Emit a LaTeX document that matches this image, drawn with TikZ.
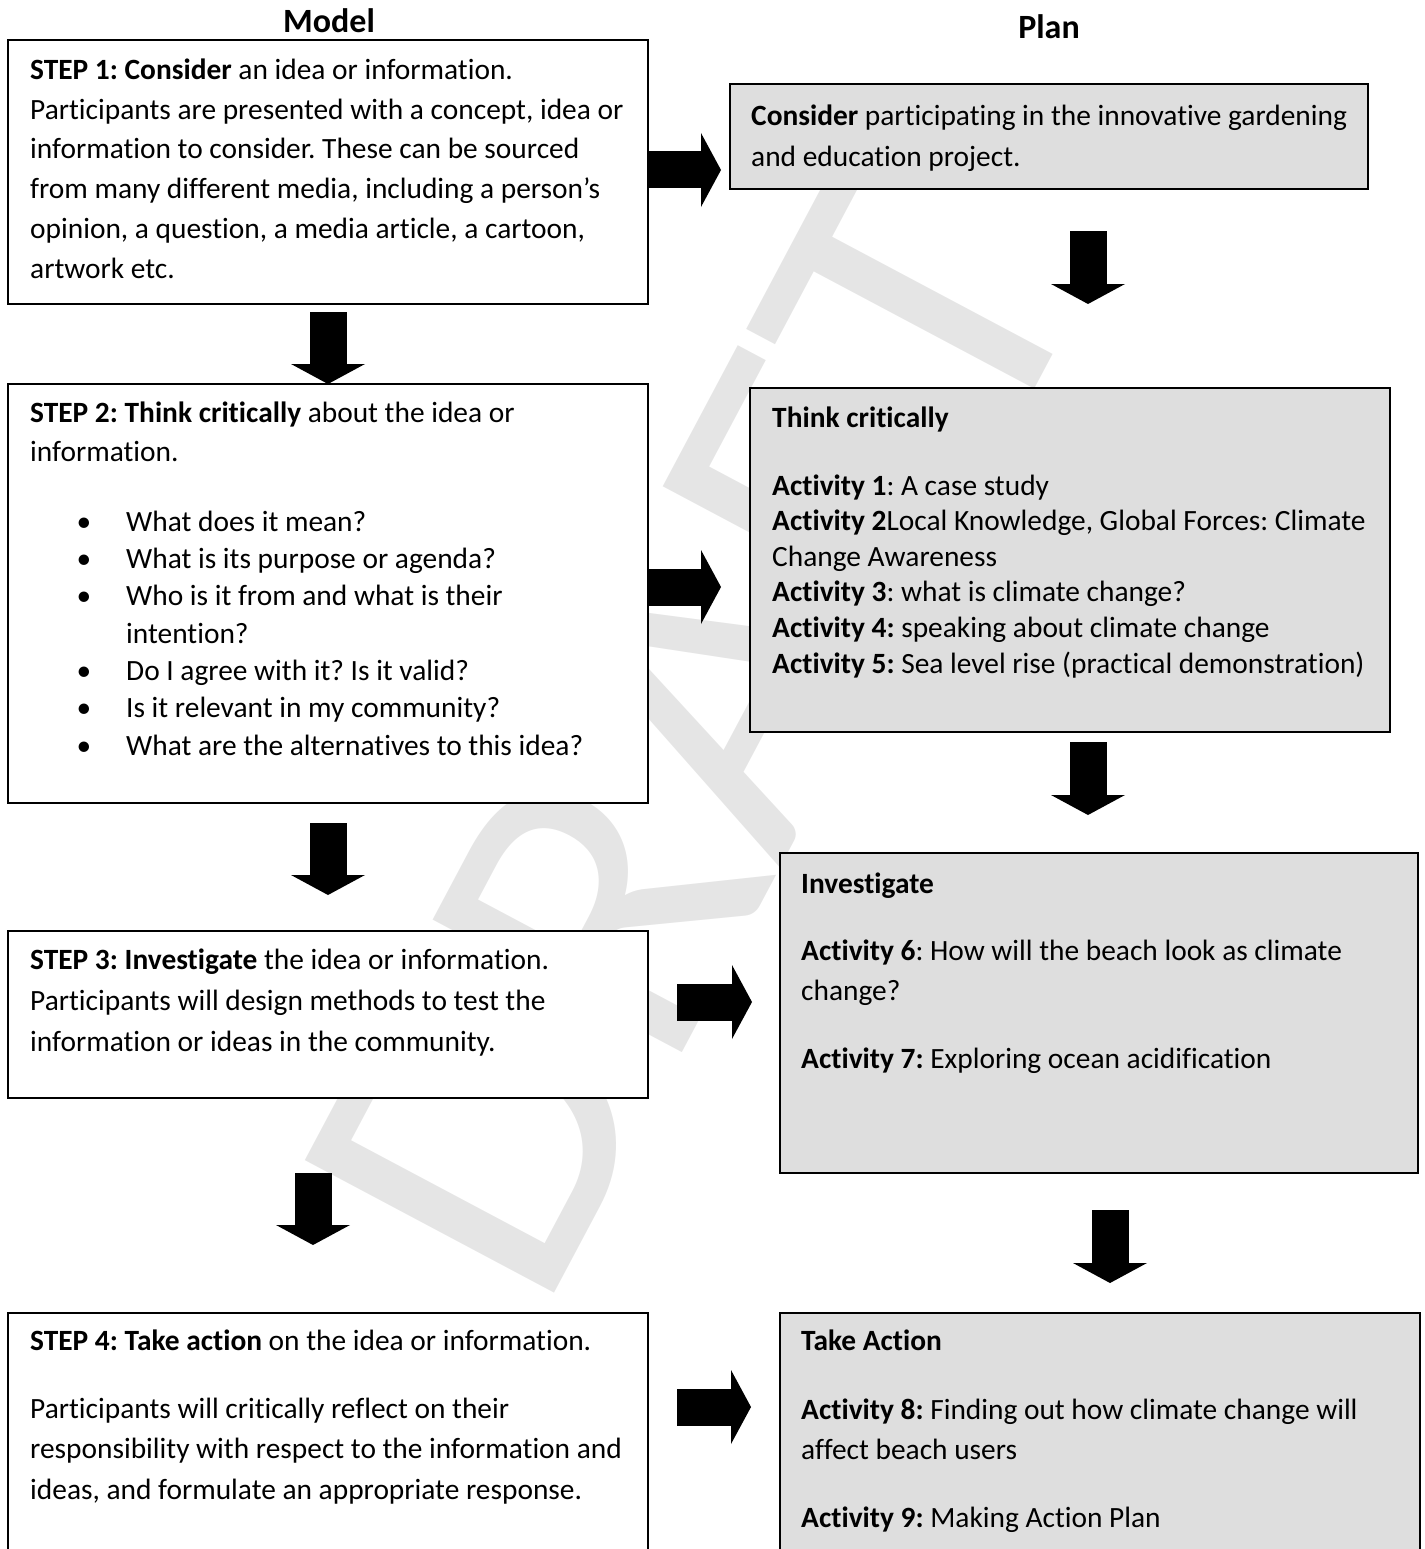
\documentclass[tikz,border=0pt]{standalone}
\usepackage{fontspec}
\setmainfont{Carlito}[Ligatures=NoCommon]
\usetikzlibrary{arrows.meta,calc}
\definecolor{planfill}{gray}{0.87}
\definecolor{markgray}{gray}{0.9}
\frenchspacing
\begin{document}
\begin{tikzpicture}[x=1pt, y=-1pt,
    modelbox/.style = {draw, line width=1.6pt, fill=white, anchor=north west, inner sep=0pt, outer sep=0pt},
    planbox/.style = {modelbox, fill=planfill},
    txt/.style = {anchor=base west, inner sep=0pt, align=left, font=\fontsize{29.4}{#1}\selectfont},
    heading/.style = {anchor=base, inner sep=0pt, font=\fontsize{34}{40}\selectfont\bfseries},
    blockarrow/.style = {line width=37pt, -{Triangle[length=20pt, width=74pt, line width=0pt]}}]
    \useasboundingbox (0,0) rectangle (1424,1549);
    \clip (0,0) rectangle (1424,1549);

    \node[rotate=62, anchor=base west, inner sep=0pt, text=markgray, font=\fontsize{440}{440}\selectfont] (draft) at (540,1320) {DRAFT};

    \node[heading] (model) at (329,33) {Model};
    \node[heading] (plan) at (1049,39) {Plan};

    \node[modelbox, minimum width=640pt, minimum height=264pt] (b1) at (8,40) {};
    \node[modelbox, minimum width=640pt, minimum height=419pt] (b2) at (8,384) {};
    \node[modelbox, minimum width=640pt, minimum height=167pt] (b3) at (8,931) {};
    \node[modelbox, minimum width=640pt, minimum height=247pt] (b4) at (8,1313) {};

    \node[planbox, minimum width=638pt, minimum height=105pt] (r1) at (730,84) {};
    \node[planbox, minimum width=640pt, minimum height=344pt] (r2) at (750,388) {};
    \node[planbox, minimum width=638pt, minimum height=320pt] (r3) at (780,853) {};
    \node[planbox, minimum width=640pt, minimum height=247pt] (r4) at (780,1313) {};

    % base anchors sit on the last line
    \node[txt=39.7] (t1) at (30,278) {\textbf{STEP 1: Consider} an idea or information.\\
        Participants are presented with a concept, idea or\\
        information to consider. These can be sourced\\
        from many different media, including a person’s\\
        opinion, a question, a media article, a cartoon,\\
        artwork etc.};
    \node[txt=39] (t2) at (30,461) {\textbf{STEP 2: Think critically} about the idea or\\
        information.};
    \node[txt=37.3] (t2list) at (126,755) {\llap{•\hspace{35pt}}What does it mean?\\
        \llap{•\hspace{35pt}}What is its purpose or agenda?\\
        \llap{•\hspace{35pt}}Who is it from and what is their\\
        intention?\\
        \llap{•\hspace{35pt}}Do I agree with it? Is it valid?\\
        \llap{•\hspace{35pt}}Is it relevant in my community?\\
        \llap{•\hspace{35pt}}What are the alternatives to this idea?};
    \node[txt=41] (t3) at (30,1051) {\textbf{STEP 3: Investigate} the idea or information.\\
        Participants will design methods to test the\\
        information or ideas in the community.};
    \node[txt=40.5] (t4) at (30,1499) {\textbf{STEP 4: Take action} on the idea or information.\\[27.5pt]
        Participants will critically reflect on their\\
        responsibility with respect to the information and\\
        ideas, and formulate an appropriate response.};

    \node[txt=41] (p1) at (751,167) {\textbf{Consider} participating in the innovative gardening\\
        and education project.};
    \node[txt=35.6] (p2) at (772,673) {\textbf{Think critically}\\[32.4pt]
        \textbf{Activity 1}: A case study\\
        \textbf{Activity 2}Local Knowledge, Global Forces: Climate\\
        Change Awareness\\
        \textbf{Activity 3}: what is climate change?\\
        \textbf{Activity 4:} speaking about climate change\\
        \textbf{Activity 5:} Sea level rise (practical demonstration)};
    \node[txt=40] (p3) at (801,1068) {\textbf{Investigate}\\[27pt]
        \textbf{Activity 6}: How will the beach look as climate\\
        change?\\[28pt]
        \textbf{Activity 7:} Exploring ocean acidification};
    \node[txt=40] (p4) at (801,1527) {\textbf{Take Action}\\[29pt]
        \textbf{Activity 8:} Finding out how climate change will\\
        affect beach users\\[28pt]
        \textbf{Activity 9:} Making Action Plan};

    \draw[blockarrow] ($(b1.south)+(0,8)$) -- (b2.north);
    \draw[blockarrow] ($(b2.south)+(0,20)$) -- ($(b3.north)+(0,-36)$);
    \draw[blockarrow] ($(b3.south)+(-15,75)$) -- ($(b4.north)+(-15,-68)$);

    \draw[blockarrow] ($(r1.south)+(39,42)$) -- ($(r2.north)+(18,-84)$);
    \draw[blockarrow] ($(r2.south)+(18,10)$) -- ($(r3.north)+(-11,-38)$);
    \draw[blockarrow] ($(r3.south)+(11,37)$) -- ($(r4.north)+(10,-30)$);

    \draw[blockarrow] ($(b1.east)+(0,-2)$) -- ($(b1.east -| r1.west)+(-9,-2)$);
    \draw[blockarrow] ($(b2.east)+(0,-6.5)$) -- ($(b2.east -| r2.west)+(-29,-6.5)$);
    \draw[blockarrow] ($(b3.east)+(29,-12.5)$) -- ($(b3.east -| r3.west)+(-28,-12.5)$);
    \draw[blockarrow] ($(b4.east)+(29,-29.5)$) -- ($(b4.east -| r4.west)+(-29,-29.5)$);
\end{tikzpicture}
\end{document}
